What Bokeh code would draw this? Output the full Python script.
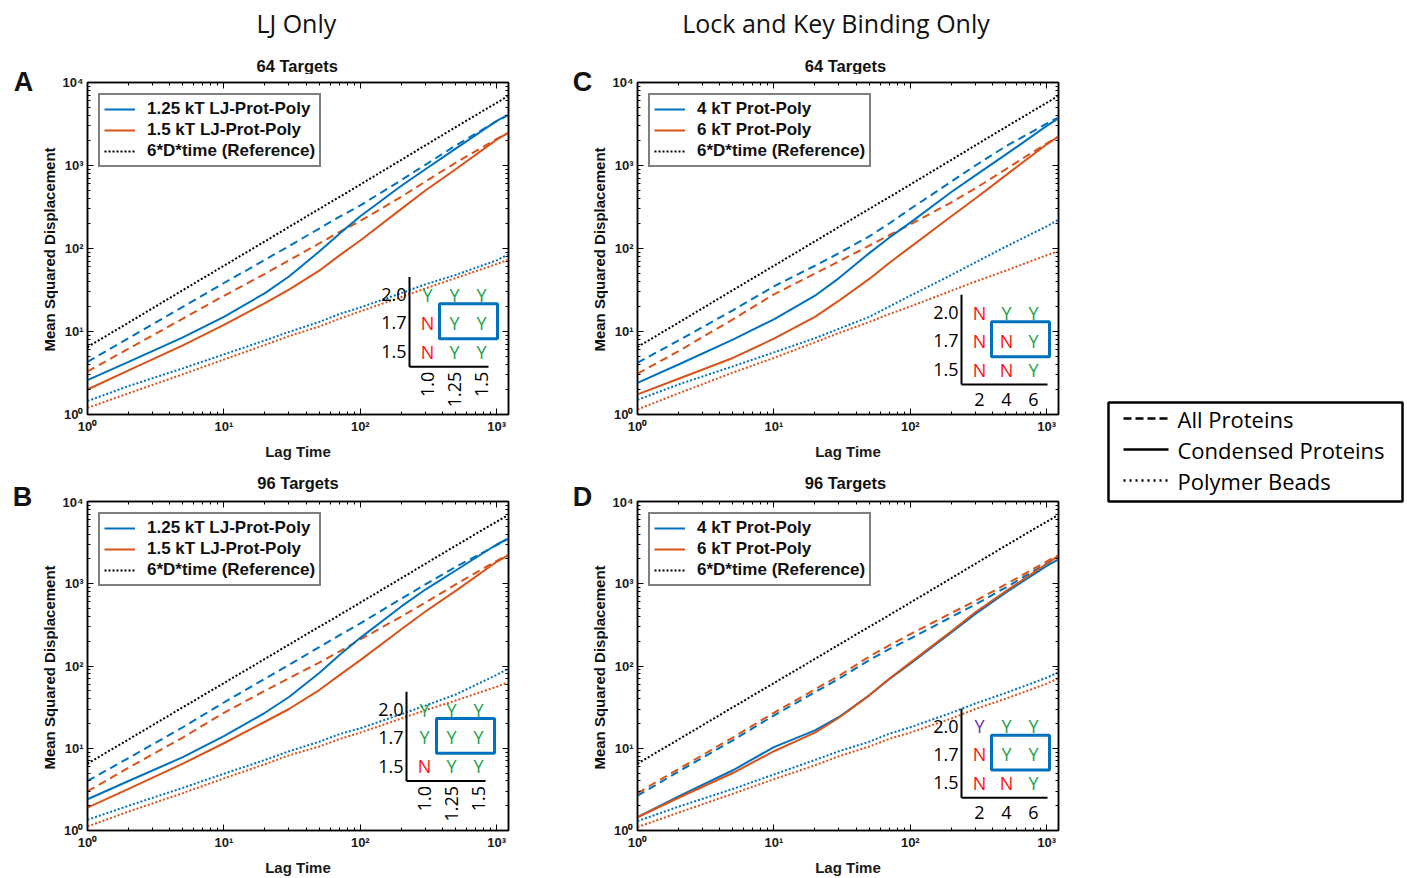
from bokeh.plotting import figure
from bokeh.layouts import row, column
from bokeh.models import (Range1d, LinearScale, LogAxis, FixedTicker, Legend,
                          LegendItem)
from bokeh.embed import file_html
from bokeh.resources import INLINE
from bokeh.core.properties import value

# ---------------- data ----------------
lag_time = [1, 2, 5, 10, 20, 30, 50, 70, 100, 200, 300, 500, 1000, 1200]
reference = [6.5, 12.8, 31.5, 62, 122, 182, 300, 415, 590, 1170, 1750, 2900, 5700, 6800]

# Panel A: LJ only, 64 targets
a_blue_all = [4.3, 8.3, 19.8, 38.4, 73, 107, 174, 240, 330, 667, 1020, 1740, 3420, 4010]
a_blue_cond = [2.6, 4.3, 8.5, 15, 29, 46, 92, 150, 245, 570, 900, 1600, 3450, 4050]
a_blue_poly = [1.45, 2.2, 3.6, 5.3, 7.8, 9.9, 13, 16.2, 19.5, 29, 37, 48, 72, 84]
a_orange_all = [3.3, 6.2, 14.3, 26.9, 49.6, 72, 115, 158, 215, 420, 640, 1080, 2090, 2450]
a_orange_cond = [2.0, 3.4, 6.8, 12, 22, 32, 54, 82, 125, 300, 500, 900, 2050, 2450]
a_orange_poly = [1.2, 1.8, 3.05, 4.6, 6.9, 8.8, 11.5, 14.2, 17.5, 26, 33, 44, 65, 73]

# Panel B: LJ only, 96 targets
b_blue_all = [4.0, 7.6, 18, 36, 70, 103, 170, 235, 330, 660, 980, 1600, 2950, 3500]
b_blue_cond = [2.4, 4.0, 7.8, 14, 27, 42, 82, 135, 220, 530, 850, 1450, 3000, 3500]
b_blue_poly = [1.35, 2.0, 3.3, 4.9, 7.2, 9.2, 12, 14.8, 17.5, 26, 33, 45, 78, 92]
b_orange_all = [3.0, 5.8, 13.5, 27, 50, 71, 110, 150, 210, 400, 590, 980, 1900, 2250]
b_orange_cond = [1.9, 3.2, 6.5, 11.5, 21, 30, 51, 77, 118, 280, 460, 820, 1850, 2200]
b_orange_poly = [1.12, 1.7, 2.85, 4.3, 6.4, 8.2, 10.5, 12.9, 15.5, 23, 29, 38, 56, 63]

# Panel C: lock and key only, 64 targets
c_blue_all = [4.2, 7.8, 18, 35, 62, 88, 140, 200, 300, 640, 1000, 1700, 3200, 3750]
c_blue_cond = [2.4, 4.0, 8.0, 14, 27, 44, 88, 135, 205, 480, 760, 1350, 3000, 3650]
c_blue_poly = [1.5, 2.3, 3.8, 5.6, 8.3, 10.8, 15, 20, 27, 48, 68, 105, 185, 220]
c_orange_all = [3.1, 5.8, 14, 28, 50, 70, 108, 145, 195, 360, 530, 900, 1850, 2200]
c_orange_cond = [1.75, 2.7, 4.8, 8.2, 15, 23.5, 43, 67, 104, 245, 400, 760, 1800, 2200]
c_orange_poly = [1.15, 1.8, 3.2, 4.8, 7.4, 9.6, 13, 16.2, 20, 31, 40, 54, 83, 92]

# Panel D: lock and key only, 96 targets
d_blue_all = [2.65, 5.2, 12.5, 25, 48, 70, 118, 160, 215, 395, 560, 900, 1760, 2100]
d_blue_cond = [1.45, 2.6, 5.4, 10.3, 16.5, 24, 44, 69, 107, 255, 430, 780, 1650, 1950]
d_blue_poly = [1.3, 1.95, 3.2, 4.8, 7.2, 9.2, 12, 15, 18, 27, 35, 47, 72, 83]
d_orange_all = [2.85, 5.6, 13.5, 27, 52, 76, 130, 178, 244, 440, 620, 980, 1870, 2200]
d_orange_cond = [1.45, 2.5, 5.0, 9.2, 15.5, 23.5, 44, 70, 110, 265, 450, 810, 1750, 2150]
d_orange_poly = [1.1, 1.65, 2.8, 4.2, 6.2, 8.0, 10.5, 13, 15.5, 23, 30, 40, 61, 70]

lj_labels = ["1.25 kT LJ-Prot-Poly", "1.5 kT LJ-Prot-Poly", "6*D*time (Reference)"]
lk_labels = ["4 kT Prot-Poly", "6 kT Prot-Poly", "6*D*time (Reference)"]
style_labels = ["All Proteins", "Condensed Proteins", "Polymer Beads"]
y_title = "Mean Squared Displacement"
x_title = "Lag Time"

# inset phase tables ('Y' yes, 'N' no, 'y' = purple Y)
inset_row_labels = ["2.0", "1.7", "1.5"]
lj_col_labels = ["1.0", "1.25", "1.5"]
lk_col_labels = ["2", "4", "6"]
a_grid = [["Y", "Y", "Y"], ["N", "Y", "Y"], ["N", "Y", "Y"]]
b_grid = [["Y", "Y", "Y"], ["Y", "Y", "Y"], ["N", "Y", "Y"]]
c_grid = [["N", "Y", "Y"], ["N", "N", "Y"], ["N", "N", "Y"]]
d_grid = [["y", "Y", "Y"], ["N", "Y", "Y"], ["N", "N", "Y"]]

BLUE = "#0072BD"
ORANGE = "#D95319"
GRID_COLORS = {"Y": "#1BA34A", "N": "#FF1010", "y": "#7030A0"}
SANS = "Liberation Sans"
SOFT = "Open Sans"
DASH = "8 5"
DOT = "2 2"

x_major = [1, 10, 100, 1000]
y_major = [1, 10, 100, 1000, 10000]
x_minor = [m * d for d in [1, 10, 100] for m in range(2, 10)]
y_minor = [m * d for d in [1, 10, 100, 1000] for m in range(2, 10)]
sup = {1: "10\u2070", 10: "10\u00b9", 100: "10\u00b2", 1000: "10\u00b3", 10000: "10\u2074"}


def style_axis(ax, major, minor, show):
    ax.ticker = FixedTicker(ticks=major, minor_ticks=minor)
    ax.major_tick_in = 6
    ax.major_tick_out = 0
    ax.minor_tick_in = 3
    ax.minor_tick_out = 0
    ax.axis_line_color = "black"
    ax.axis_line_width = 1.5
    ax.major_tick_line_color = "black"
    ax.minor_tick_line_color = "black"
    ax.major_tick_line_width = 1
    ax.minor_tick_line_width = 1
    ax.major_label_overrides = {k: v for k, v in sup.items() if k in major}
    if show:
        ax.major_label_text_font = SANS
        ax.major_label_text_font_style = "bold"
        ax.major_label_text_font_size = "13px"
        ax.major_label_text_color = "#1a1a1a"
        ax.major_label_standoff = 4
        ax.axis_label_text_font = SANS
        ax.axis_label_text_font_style = "bold"
        ax.axis_label_text_font_size = "15px"
        ax.axis_label_text_color = "#1a1a1a"
        ax.axis_label_standoff = 6
    else:
        ax.major_label_text_font_size = "2px"
        ax.major_label_text_alpha = 0
        ax.major_label_standoff = 0


def text_fig(width, height, items):
    f = figure(width=width, height=height, x_range=Range1d(0, width),
               y_range=Range1d(0, height), min_border=0, min_border_left=0,
               min_border_right=0, min_border_top=0, min_border_bottom=0,
               x_axis_location=None, y_axis_location=None, output_backend="svg",
               toolbar_location=None)
    f.grid.visible = False
    f.outline_line_color = None
    for (x, y, t, font, size, style, ang) in items:
        f.text(x=[x], y=[y], text=[t], text_font=value(font), text_font_size=size,
               text_font_style=style, text_align="center", text_baseline="middle",
               text_color="#111111", angle=ang)
    return f


def make_panel(col, rowi, blue_all, blue_cond, blue_poly, orange_all, orange_cond,
               orange_poly, labels, grid, col_labels, rotated, corner):
    width = [502, 492][col]
    bl = 29
    br = [52, 42][col]
    height = [388, 384][rowi]
    bt = [8, 7][rowi]
    bb = [47, 45][rowi]
    fw = width - bl - br
    fh = height - bt - bb
    p = figure(width=width, height=height, x_axis_type="log", y_axis_type="log",
               x_range=Range1d(1, 1220), y_range=Range1d(1, 10000),
               output_backend="svg", toolbar_location=None,
               min_border_left=bl, min_border_right=br,
               min_border_top=bt, min_border_bottom=bb,
               x_axis_label=x_title)
    p.grid.visible = False
    p.outline_line_color = "black"
    p.outline_line_width = 1.5
    p.background_fill_color = "white"
    p.border_fill_color = "white"
    style_axis(p.xaxis[0], x_major, x_minor, True)
    style_axis(p.yaxis[0], y_major, y_minor, True)
    top = LogAxis()
    style_axis(top, x_major, x_minor, False)
    p.add_layout(top, "above")
    right = LogAxis()
    style_axis(right, y_major, y_minor, False)
    p.add_layout(right, "right")

    p.extra_x_ranges = {"px": Range1d(0, fw)}
    p.extra_y_ranges = {"px": Range1d(0, fh)}
    p.extra_x_scales = {"px": LinearScale()}
    p.extra_y_scales = {"px": LinearScale()}

    lw = 2
    p.line(lag_time, blue_poly, color=BLUE, line_width=lw, line_dash=DOT)
    p.line(lag_time, orange_poly, color=ORANGE, line_width=lw, line_dash=DOT)
    p.line(lag_time, blue_all, color=BLUE, line_width=lw, line_dash=DASH)
    p.line(lag_time, orange_all, color=ORANGE, line_width=lw, line_dash=DASH)
    rb = p.line(lag_time, blue_cond, color=BLUE, line_width=lw)
    ro = p.line(lag_time, orange_cond, color=ORANGE, line_width=lw)
    rr = p.line(lag_time, reference, color="black", line_width=lw, line_dash=DOT)

    leg = Legend(items=[LegendItem(label=labels[0], renderers=[rb]),
                        LegendItem(label=labels[1], renderers=[ro]),
                        LegendItem(label=labels[2], renderers=[rr])],
                 location="top_left", margin=11, padding=4, spacing=1,
                 label_height=20, glyph_height=20, glyph_width=31, label_standoff=12,
                 border_line_color="black", border_line_width=2,
                 background_fill_color="white", background_fill_alpha=1,
                 label_text_font=SANS, label_text_font_style="bold",
                 label_text_font_size="17px", label_text_color="#111111")
    p.add_layout(leg, "center")

    # inset phase table
    cx, cy = corner
    row_off = [72, 44, 15]
    col_off = [18, 45, 72]
    xs, ys, txt, cols = [], [], [], []
    for i in range(3):
        for j in range(3):
            v = grid[i][j]
            xs.append(cx + col_off[j])
            ys.append(cy + row_off[i])
            txt.append(v.upper())
            cols.append(GRID_COLORS[v])
    p.text(x=xs, y=ys, text=txt, text_color=cols, x_range_name="px", y_range_name="px",
           text_align="center", text_baseline="middle", text_font=value(SOFT),
           text_font_size="18px")
    p.text(x=[cx - 3] * 3, y=[cy + r for r in row_off], text=inset_row_labels,
           x_range_name="px", y_range_name="px", text_align="right",
           text_baseline="middle", text_font=value(SOFT), text_font_size="18px",
           text_color="black")
    if rotated:
        p.text(x=[cx + c for c in col_off], y=[cy - 5] * 3, text=col_labels, angle=1.5708,
               x_range_name="px", y_range_name="px", text_align="right",
               text_baseline="middle", text_font=value(SOFT), text_font_size="18px",
               text_color="black")
        hlen = 79
    else:
        p.text(x=[cx + c for c in col_off], y=[cy - 15] * 3, text=col_labels,
               x_range_name="px", y_range_name="px", text_align="center",
               text_baseline="middle", text_font=value(SOFT), text_font_size="18px",
               text_color="black")
        hlen = 86
    p.segment(x0=[cx, cx], y0=[cy, cy], x1=[cx, cx + hlen], y1=[cy + 90, cy],
              x_range_name="px", y_range_name="px", line_color="black", line_width=2)
    p.quad(left=[cx + 30], right=[cx + 88], bottom=[cy + 28], top=[cy + 63],
           x_range_name="px", y_range_name="px", fill_color=None, line_color=BLUE,
           line_width=3)
    return p


pA = make_panel(0, 0, a_blue_all, a_blue_cond, a_blue_poly, a_orange_all, a_orange_cond,
                a_orange_poly, lj_labels, a_grid, lj_col_labels, True, (322, 48))
pB = make_panel(0, 1, b_blue_all, b_blue_cond, b_blue_poly, b_orange_all, b_orange_cond,
                b_orange_poly, lj_labels, b_grid, lj_col_labels, True, (319, 50))
pC = make_panel(1, 0, c_blue_all, c_blue_cond, c_blue_poly, c_orange_all, c_orange_cond,
                c_orange_poly, lk_labels, c_grid, lk_col_labels, False, (324, 30))
pD = make_panel(1, 1, d_blue_all, d_blue_cond, d_blue_poly, d_orange_all, d_orange_cond,
                d_orange_poly, lk_labels, d_grid, lk_col_labels, False, (324, 33))

# headings, sub-titles, panel letters and y-axis titles
ROT = 1.5708
HA = text_fig(502, 74, [(249, 52, "LJ Only", SOFT, "25px", "normal", 0),
                        (250, 9, "64 Targets", SANS, "16.5px", "bold", 0)])
HB = text_fig(502, 32, [(251, 12, "96 Targets", SANS, "16.5px", "bold", 0)])
HC = text_fig(492, 74, [(232, 52, "Lock and Key Binding Only", SOFT, "25px", "normal", 0),
                        (243, 9, "64 Targets", SANS, "16.5px", "bold", 0)])
HD = text_fig(492, 32, [(243, 12, "96 Targets", SANS, "16.5px", "bold", 0)])
LA = text_fig(58, 462, [(23, 381, "A", SANS, "27px", "bold", 0),
                        (49, 213, y_title, SANS, "15px", "bold", ROT)])
LB = text_fig(58, 416, [(22, 382, "B", SANS, "27px", "bold", 0),
                        (49, 211, y_title, SANS, "15px", "bold", ROT)])
LC = text_fig(48, 462, [(22, 381, "C", SANS, "27px", "bold", 0),
                        (39, 213, y_title, SANS, "15px", "bold", ROT)])
LD = text_fig(48, 416, [(22, 382, "D", SANS, "27px", "bold", 0),
                        (39, 211, y_title, SANS, "15px", "bold", ROT)])

# global line-style key, drawn in its own pixel-sized panel
pL = figure(width=307, height=878, output_backend="svg", toolbar_location=None,
            x_range=Range1d(0, 307), y_range=Range1d(0, 878), min_border=0,
            min_border_left=0, min_border_right=0, min_border_top=0,
            min_border_bottom=0, x_axis_location=None, y_axis_location=None)
pL.grid.visible = False
pL.outline_line_color = None
pL.quad(left=[8], right=[302], bottom=[377], top=[476], fill_color="white",
        line_color="black", line_width=2.5)
key_y = [460, 429, 398]
key_dash = ["8 4", "solid", "2 4"]
for yk, dsh, lab in zip(key_y, key_dash, style_labels):
    pL.line([23, 68], [yk, yk], color="black", line_width=2.5, line_dash=dsh)
    pL.text(x=[77], y=[yk], text=[lab], text_font=value(SOFT), text_font_size="22px",
            text_baseline="middle", text_align="left", text_color="black")

layout = row(column(row(LA, column(HA, pA)), row(LB, column(HB, pB))),
             column(row(LC, column(HC, pC)), row(LD, column(HD, pD))),
             pL)
open("out.html", "w").write(file_html(layout, INLINE))
